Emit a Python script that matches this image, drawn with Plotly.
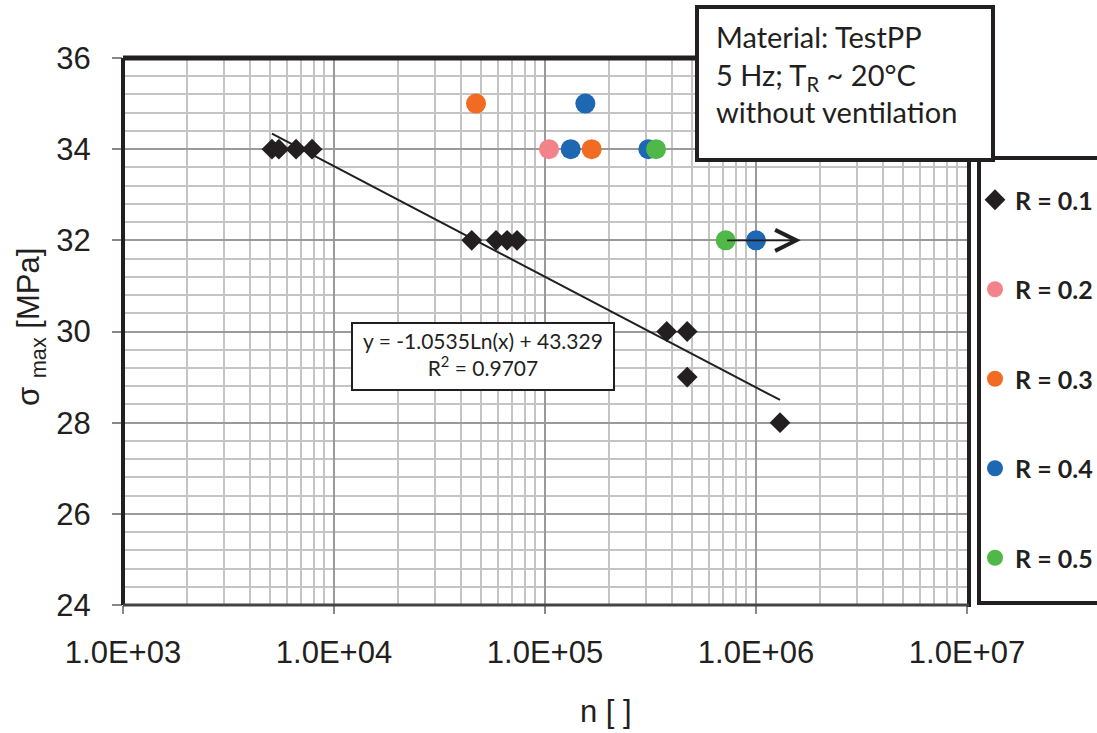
import numpy as np
import plotly.graph_objects as go

# ---- data -------------------------------------------------------------
series_names = ["R = 0.1", "R = 0.2", "R = 0.3", "R = 0.4", "R = 0.5"]

n_r01 = [5080, 5480, 6610, 7870, 44950, 58600, 66100, 73700,
         377500, 472000, 472000, 1300000]
s_r01 = [34, 34, 34, 34, 32, 32, 32, 32, 30, 30, 29, 28]

n_r02 = [104500]
s_r02 = [34]

n_r03 = [47100, 166400]
s_r03 = [35, 34]

n_r04 = [155300, 132400, 309000, 1000000]
s_r04 = [35, 34, 34, 32]

n_r05 = [335900, 718000]
s_r05 = [34, 32]

# run-out (specimen did not fail): arrow from the last R = 0.5 point
runout_start = 718000
runout_end = 1630000
runout_level = 32

# logarithmic trend line of the R = 0.1 series
fit_a = -1.0535
fit_b = 43.329
fit_r2 = 0.9707

x_tickvals = [1e3, 1e4, 1e5, 1e6, 1e7]
x_ticktext = ["1.0E+03", "1.0E+04", "1.0E+05", "1.0E+06", "1.0E+07"]

colors = ["#231F20", "#F2838B", "#F26B22", "#1D67B3", "#50B848"]

# ---- figure geometry (pixels) -----------------------------------------
W, H = 1097, 733
L, R, T, B = 123, 967, 58, 605


def fx(px):
    return (px - L) / (R - L)


def fy(py):
    return (B - py) / (B - T)


AXIS_FONT = dict(family="Liberation Sans, Arial", size=31, color="#231F20")

fig = go.Figure()

series = [(n_r01, s_r01), (n_r02, s_r02), (n_r03, s_r03),
          (n_r04, s_r04), (n_r05, s_r05)]

# trend line
fit_x = np.logspace(np.log10(min(n_r01)), np.log10(max(n_r01)), 50)
fit_y = fit_a * np.log(fit_x) + fit_b
fig.add_trace(go.Scatter(x=fit_x, y=fit_y, mode="lines",
                         line=dict(color="#231F20", width=2),
                         showlegend=False, hoverinfo="skip"))

for i, (name, (xs, ys)) in enumerate(zip(series_names, series)):
    symbol = "diamond" if i == 0 else "circle"
    size = 16 if i == 0 else 20
    fig.add_trace(go.Scatter(
        x=xs, y=ys, mode="markers", name=name, legendgroup=name,
        marker=dict(symbol=symbol, size=size, color=colors[i],
                    line=dict(width=0)),
    ))

# run-out arrow
fig.add_annotation(
    x=np.log10(runout_end), y=runout_level,
    ax=np.log10(runout_start), ay=runout_level,
    xref="x", yref="y", axref="x", ayref="y",
    showarrow=True, arrowhead=5, arrowsize=2.3, arrowwidth=1.8,
    arrowcolor="#231F20", text="",
)

# minor gridlines of the log axis
minor_x = [k * 10 ** e for e in range(3, 7) for k in range(2, 10)]

fig.update_xaxes(
    type="log", range=[3, 7],
    tickmode="array", tickvals=x_tickvals, ticktext=x_ticktext,
    tickfont=AXIS_FONT,
    ticks="outside", ticklen=8, tickcolor="#888888", tickwidth=1.5,
    ticklabelstandoff=12,
    showgrid=True, gridcolor="#9a9a9a", gridwidth=1.5,
    minor=dict(tickmode="array", tickvals=minor_x, showgrid=True,
               gridcolor="#c4c4c4", gridwidth=1.5, ticks=""),
    zeroline=False, showline=False,
)
fig.update_yaxes(
    range=[24, 36], dtick=2, tick0=24,
    tickfont=AXIS_FONT,
    ticks="outside", ticklen=10, tickcolor="#888888", tickwidth=1.5,
    ticklabelstandoff=15,
    showgrid=True, gridcolor="#9a9a9a", gridwidth=1.5,
    minor=dict(dtick=0.4, tick0=24, showgrid=True,
               gridcolor="#c4c4c4", gridwidth=1.5, ticks=""),
    zeroline=False, showline=False,
)

# axis titles
fig.add_annotation(xref="paper", yref="paper", x=fx(606), y=fy(711),
                   xanchor="center", yanchor="middle", showarrow=False,
                   text="n [ ]", font=AXIS_FONT)
fig.add_annotation(xref="paper", yref="paper", x=fx(31), y=fy(327),
                   xanchor="center", yanchor="middle", showarrow=False,
                   textangle=-90, text="σ <sub>max</sub> [MPa]",
                   font=AXIS_FONT)

shapes = []
# plot frame
shapes.append(dict(type="line", xref="paper", yref="paper",
                   x0=fx(L), x1=fx(R + 3), y0=fy(T), y1=fy(T),
                   line=dict(color="#231F20", width=5)))
shapes.append(dict(type="line", xref="paper", yref="paper",
                   x0=fx(L), x1=fx(L), y0=fy(B), y1=fy(T),
                   line=dict(color="#231F20", width=4)))
shapes.append(dict(type="line", xref="paper", yref="paper",
                   x0=fx(R + 2), x1=fx(R + 2), y0=fy(B + 2), y1=fy(T),
                   line=dict(color="#231F20", width=4)))
shapes.append(dict(type="line", xref="paper", yref="paper",
                   x0=fx(L), x1=fx(R + 2), y0=fy(B), y1=fy(B),
                   line=dict(color="#444444", width=3)))
# legend frame (runs off the right edge)
shapes.append(dict(type="rect", xref="paper", yref="paper",
                   x0=fx(979), x1=fx(1130), y0=fy(603), y1=fy(158),
                   line=dict(color="#231F20", width=4), fillcolor="white"))
# info box
shapes.append(dict(type="rect", xref="paper", yref="paper",
                   x0=fx(697), x1=fx(993), y0=fy(160), y1=fy(7),
                   line=dict(color="#231F20", width=4), fillcolor="white"))
# trend-line equation box
shapes.append(dict(type="rect", xref="paper", yref="paper",
                   x0=fx(352), x1=fx(614), y0=fy(390), y1=fy(323),
                   line=dict(color="#231F20", width=2), fillcolor="white"))
for s in shapes:
    s["layer"] = "above"
fig.update_layout(shapes=shapes)

fig.add_annotation(
    xref="paper", yref="paper", x=fx(714), y=fy(74),
    xanchor="left", yanchor="middle", align="left", showarrow=False,
    text="Material: TestPP<br>5 Hz; T<sub>R</sub> ~ 20°C<br>without ventilation",
    font=dict(family="Lato", size=29, color="#231F20"),
)
fig.add_annotation(
    xref="paper", yref="paper", x=fx(483), y=fy(354),
    xanchor="center", yanchor="middle", align="center", showarrow=False,
    text=f"y = {fit_a:.4f}Ln(x) + {fit_b:.3f}<br>R<sup>2</sup> = {fit_r2:.4f}",
    font=dict(family="Lato", size=21, color="#231F20"),
)

fig.update_layout(
    width=W, height=H,
    margin=dict(l=L, r=W - R, t=T, b=H - B, autoexpand=False),
    paper_bgcolor="white", plot_bgcolor="white",
    showlegend=True,
    legend=dict(x=fx(975), y=fy(177), xanchor="left", yanchor="top",
                bgcolor="rgba(0,0,0,0)", borderwidth=0,
                font=dict(family="Lato", size=25, color="#231F20",
                          weight="bold"),
                tracegroupgap=54, itemwidth=30),
)

fig.write_html("out.html")
